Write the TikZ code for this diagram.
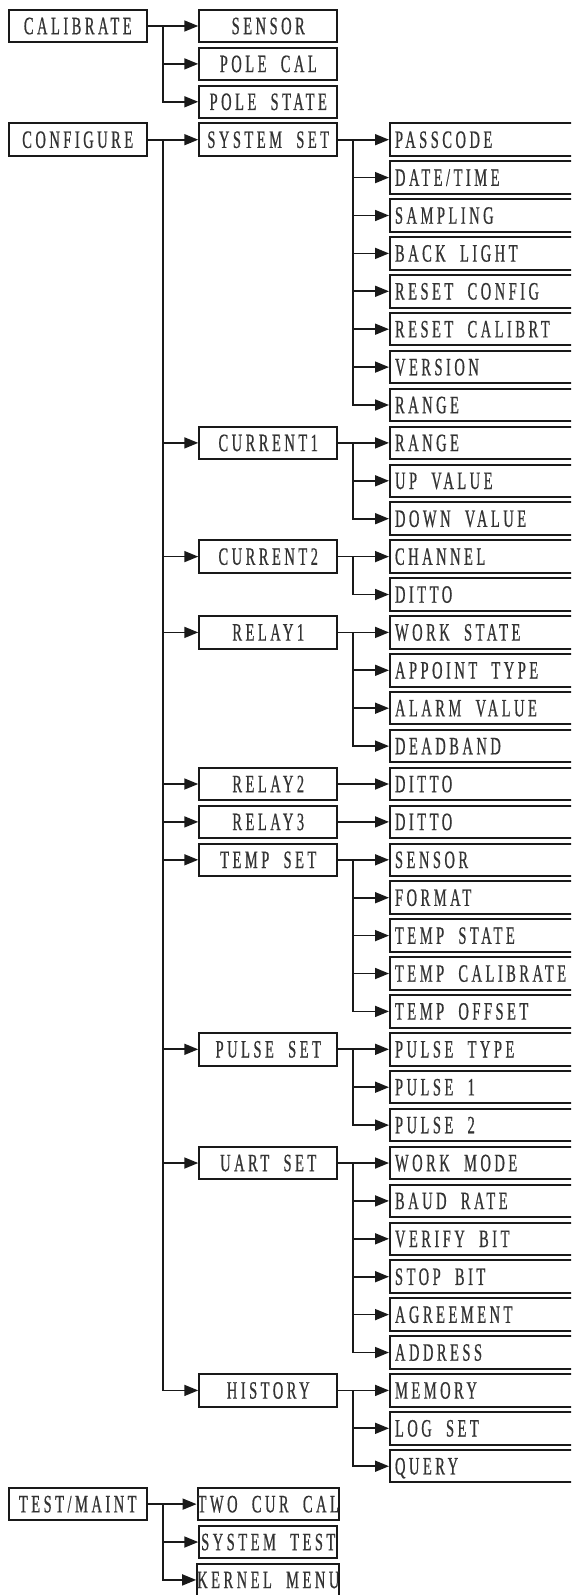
\documentclass[tikz,border=0pt]{standalone}
\usepackage{fontspec}
\newfontfamily\menufont[FakeStretch=0.58,LetterSpace=14,FakeBold=0.6,WordSpace=2]{Liberation Serif}
\usetikzlibrary{arrows.meta}

\begin{document}
\begin{tikzpicture}[
    x=0.5pt, y=-18.95pt,
    every node/.style={font=\menufont\fontsize{12.5}{13}\selectfont, text=black!80},
    menu/.style={draw=black!90, line width=1pt, minimum width=69pt, minimum height=16.25pt, text height=8.2pt, text depth=0pt, inner sep=0pt},
    item/.style={draw=black!90, line width=1pt, anchor=west, minimum height=16.25pt, text height=8.2pt, text depth=0pt, inner xsep=2.5pt, inner ysep=0pt,
        execute at begin node={\hbox to 240pt\bgroup}, execute at end node={\hfil\egroup}},
    arr/.style={-{Triangle[length=7pt,width=5.5pt]}, line width=0.85pt, draw=black!90}
]
\useasboundingbox (0,-0.686) rectangle (571,41.398);
\clip (0,-0.686) rectangle (571,41.398);

% first level
\node[menu] (cal) at (77.75,0) {CALIBRATE};
\node[menu] (conf) at (77.75,3) {CONFIGURE};
\node[menu] (test) at (77.75,39) {TEST/MAINT};

% second level
\node[menu] (sensor) at (268.25,0) {SENSOR};
\node[menu] (polecal) at (268.25,1) {POLE CAL};
\node[menu] (polestate) at (268.25,2) {POLE STATE};
\node[menu] (sysset) at (268.25,3) {SYSTEM SET};
\node[menu] (cur1) at (268.25,11) {CURRENT1};
\node[menu] (cur2) at (268.25,14) {CURRENT2};
\node[menu] (relay1) at (268.25,16) {RELAY1};
\node[menu] (relay2) at (268.25,20) {RELAY2};
\node[menu] (relay3) at (268.25,21) {RELAY3};
\node[menu] (tempset) at (268.25,22) {TEMP SET};
\node[menu] (pulseset) at (268.25,27) {PULSE SET};
\node[menu] (uartset) at (268.25,30) {UART SET};
\node[menu] (history) at (268.25,36) {HISTORY};
\node[menu] (twocur) at (268.25,39) {TWO CUR CAL};
\node[menu] (systest) at (268.25,40) {SYSTEM TEST};
\node[menu] (kernel) at (268.25,41) {KERNEL MENU};

% third level
\node[item] (pass) at (389,3) {PASSCODE};
\node[item] (date) at (389,4) {DATE/TIME};
\node[item] (samp) at (389,5) {SAMPLING};
\node[item] (back) at (389,6) {BACK LIGHT};
\node[item] (rconf) at (389,7) {RESET CONFIG};
\node[item] (rcal) at (389,8) {RESET CALIBRT};
\node[item] (ver) at (389,9) {VERSION};
\node[item] (range) at (389,10) {RANGE};
\node[item] (crange) at (389,11) {RANGE};
\node[item] (upval) at (389,12) {UP VALUE};
\node[item] (downval) at (389,13) {DOWN VALUE};
\node[item] (chan) at (389,14) {CHANNEL};
\node[item] (ditto1) at (389,15) {DITTO};
\node[item] (work) at (389,16) {WORK STATE};
\node[item] (appoint) at (389,17) {APPOINT TYPE};
\node[item] (alarm) at (389,18) {ALARM VALUE};
\node[item] (dead) at (389,19) {DEADBAND};
\node[item] (ditto2) at (389,20) {DITTO};
\node[item] (ditto3) at (389,21) {DITTO};
\node[item] (tsensor) at (389,22) {SENSOR};
\node[item] (format) at (389,23) {FORMAT};
\node[item] (tstate) at (389,24) {TEMP STATE};
\node[item] (tcal) at (389,25) {TEMP CALIBRATE};
\node[item] (toff) at (389,26) {TEMP OFFSET};
\node[item] (ptype) at (389,27) {PULSE TYPE};
\node[item] (pulse1) at (389,28) {PULSE 1};
\node[item] (pulse2) at (389,29) {PULSE 2};
\node[item] (wmode) at (389,30) {WORK MODE};
\node[item] (baud) at (389,31) {BAUD RATE};
\node[item] (verify) at (389,32) {VERIFY BIT};
\node[item] (stop) at (389,33) {STOP BIT};
\node[item] (agree) at (389,34) {AGREEMENT};
\node[item] (addr) at (389,35) {ADDRESS};
\node[item] (memory) at (389,36) {MEMORY};
\node[item] (logset) at (389,37) {LOG SET};
\node[item] (query) at (389,38) {QUERY};

% calibrate
\draw[arr] (cal.east) -- ++(15,0) |- (sensor.west);
\draw[arr] (cal.east) -- ++(15,0) |- (polecal.west);
\draw[arr] (cal.east) -- ++(15,0) |- (polestate.west);

% configure
\draw[arr] (conf.east) -- ++(15,0) |- (sysset.west);
\draw[arr] (conf.east) -- ++(15,0) |- (cur1.west);
\draw[arr] (conf.east) -- ++(15,0) |- (cur2.west);
\draw[arr] (conf.east) -- ++(15,0) |- (relay1.west);
\draw[arr] (conf.east) -- ++(15,0) |- (relay2.west);
\draw[arr] (conf.east) -- ++(15,0) |- (relay3.west);
\draw[arr] (conf.east) -- ++(15,0) |- (tempset.west);
\draw[arr] (conf.east) -- ++(15,0) |- (pulseset.west);
\draw[arr] (conf.east) -- ++(15,0) |- (uartset.west);
\draw[arr] (conf.east) -- ++(15,0) |- (history.west);

% test/maint
\draw[arr] (test.east) -- ++(15,0) |- (twocur.west);
\draw[arr] (test.east) -- ++(15,0) |- (systest.west);
\draw[arr] (test.east) -- ++(15,0) |- (kernel.west);

% system set
\draw[arr] (sysset.east) -- ++(15,0) |- (pass.west);
\draw[arr] (sysset.east) -- ++(15,0) |- (date.west);
\draw[arr] (sysset.east) -- ++(15,0) |- (samp.west);
\draw[arr] (sysset.east) -- ++(15,0) |- (back.west);
\draw[arr] (sysset.east) -- ++(15,0) |- (rconf.west);
\draw[arr] (sysset.east) -- ++(15,0) |- (rcal.west);
\draw[arr] (sysset.east) -- ++(15,0) |- (ver.west);
\draw[arr] (sysset.east) -- ++(15,0) |- (range.west);

% currents
\draw[arr] (cur1.east) -- ++(15,0) |- (crange.west);
\draw[arr] (cur1.east) -- ++(15,0) |- (upval.west);
\draw[arr] (cur1.east) -- ++(15,0) |- (downval.west);
\draw[arr] (cur2.east) -- ++(15,0) |- (chan.west);
\draw[arr] (cur2.east) -- ++(15,0) |- (ditto1.west);

% relays
\draw[arr] (relay1.east) -- ++(15,0) |- (work.west);
\draw[arr] (relay1.east) -- ++(15,0) |- (appoint.west);
\draw[arr] (relay1.east) -- ++(15,0) |- (alarm.west);
\draw[arr] (relay1.east) -- ++(15,0) |- (dead.west);
\draw[arr] (relay2) -- (ditto2);
\draw[arr] (relay3) -- (ditto3);

% temp set
\draw[arr] (tempset.east) -- ++(15,0) |- (tsensor.west);
\draw[arr] (tempset.east) -- ++(15,0) |- (format.west);
\draw[arr] (tempset.east) -- ++(15,0) |- (tstate.west);
\draw[arr] (tempset.east) -- ++(15,0) |- (tcal.west);
\draw[arr] (tempset.east) -- ++(15,0) |- (toff.west);

% pulse set
\draw[arr] (pulseset.east) -- ++(15,0) |- (ptype.west);
\draw[arr] (pulseset.east) -- ++(15,0) |- (pulse1.west);
\draw[arr] (pulseset.east) -- ++(15,0) |- (pulse2.west);

% uart set
\draw[arr] (uartset.east) -- ++(15,0) |- (wmode.west);
\draw[arr] (uartset.east) -- ++(15,0) |- (baud.west);
\draw[arr] (uartset.east) -- ++(15,0) |- (verify.west);
\draw[arr] (uartset.east) -- ++(15,0) |- (stop.west);
\draw[arr] (uartset.east) -- ++(15,0) |- (agree.west);
\draw[arr] (uartset.east) -- ++(15,0) |- (addr.west);

% history
\draw[arr] (history.east) -- ++(15,0) |- (memory.west);
\draw[arr] (history.east) -- ++(15,0) |- (logset.west);
\draw[arr] (history.east) -- ++(15,0) |- (query.west);
\end{tikzpicture}
\end{document}
